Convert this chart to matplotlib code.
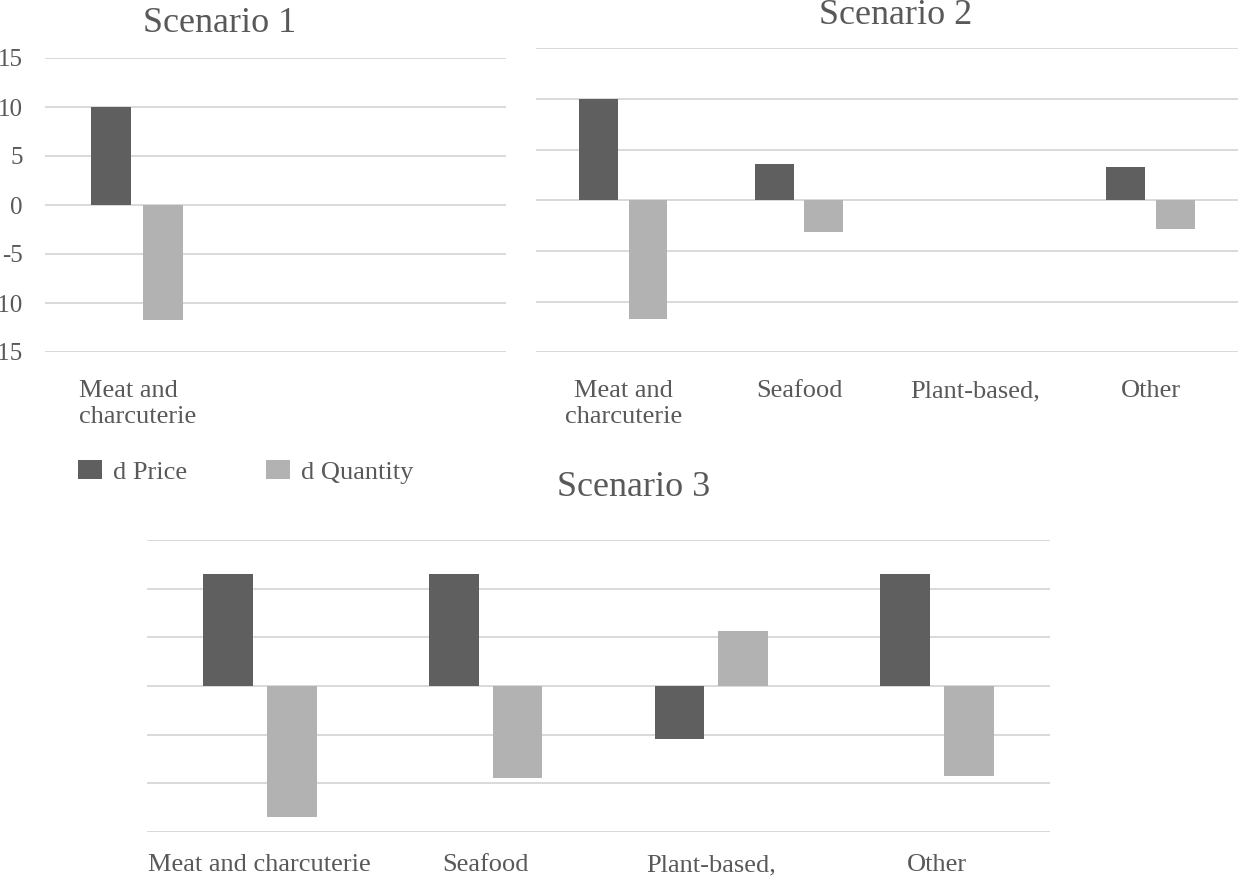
import matplotlib.pyplot as plt
import numpy as np

plt.rcParams['font.family'] = ['Liberation Serif', 'DejaVu Serif']
plt.rcParams['axes.unicode_minus'] = False

# change in price / quantity per product group, one set per scenario
cats_s1 = ["Meat and\ncharcuterie"]
price_s1 = [10.0]
qty_s1 = [-11.7]

cats_s2 = ["Meat and\ncharcuterie", "Seafood", "Plant-based,", "Other"]
price_s2 = [10.0, 3.6, 0.0, 3.3]
qty_s2 = [-11.7, -3.1, 0.0, -2.8]

cats_s3 = ["Meat and charcuterie", "Seafood", "Plant-based,", "Other"]
price_s3 = [11.5, 11.5, -5.4, 11.5]
qty_s3 = [-13.5, -9.5, 5.7, -9.2]

y_ticks = [-15, -10, -5, 0, 5, 10, 15]

DARK = '#5f5f5f'
LIGHT = '#b2b2b2'
GRID = '#d9d9d9'
TEXT = '#595959'
BAR_W = 0.22
OFFSET = 0.141


def draw_panel(ax, cats, price, qty, show_yticks=False, xlim=None, xpad=20):
    x = np.arange(len(cats))
    bp = ax.bar(x - OFFSET, price, BAR_W, color=DARK, label='d Price', zorder=3)
    bq = ax.bar(x + OFFSET, qty, BAR_W, color=LIGHT, label='d Quantity', zorder=3)
    ax.set_ylim(-15, 15)
    ax.set_yticks(y_ticks)
    ax.set_xticks(x)
    ax.set_xticklabels(cats, fontsize=19, color=TEXT, linespacing=1.25)
    if xlim is None:
        xlim = (-0.5, len(cats) - 0.5)
    ax.set_xlim(*xlim)
    ax.grid(axis='y', color=GRID, linewidth=1.4, zorder=0)
    ax.set_axisbelow(True)
    for s in ax.spines.values():
        s.set_visible(False)
    ax.tick_params(axis='x', length=0, pad=xpad)
    if show_yticks:
        ax.tick_params(axis='y', length=0, labelsize=18, labelcolor=TEXT, pad=16)
    else:
        ax.tick_params(axis='y', length=0, labelleft=False)
    return bp, bq


fig = plt.figure(figsize=(12.39, 8.77), dpi=100)

W, H = 1239, 877
ax1 = fig.add_axes([45 / W, 1 - 352 / H, 461 / W, 294 / H])
ax2 = fig.add_axes([535.5 / W, 1 - 352.3 / H, 702.8 / W, 304 / H])
ax3 = fig.add_axes([147 / W, 1 - 832 / H, 903 / W, 292 / H])

bp, bq = draw_panel(ax1, cats_s1, price_s1, qty_s1, show_yticks=True, xlim=(-0.5, 2.0))
for lbl in ax1.get_xticklabels():
    lbl.set_multialignment('left')
    lbl.set_x(0.04)
draw_panel(ax2, cats_s2, price_s2, qty_s2)
draw_panel(ax3, cats_s3, price_s3, qty_s3, xpad=16)

fig.text(220 / W, 1 - 24 / H, "Scenario 1", fontsize=26, color=TEXT, ha='center', va='center')
fig.text(896 / W, 1 - 16 / H, "Scenario 2", fontsize=26, color=TEXT, ha='center', va='center')
fig.text(634 / W, 1 - 488 / H, "Scenario 3", fontsize=26, color=TEXT, ha='center', va='center')

leg = fig.legend(handles=[bp, bq], labels=['d Price', 'd Quantity'],
                 loc='center left', bbox_to_anchor=(78 / W, 1 - 472 / H),
                 ncol=2, frameon=False, fontsize=19, borderpad=0, borderaxespad=0,
                 handlelength=0.9, handleheight=0.75, handletextpad=0.42,
                 columnspacing=3.0)
for t in leg.get_texts():
    t.set_color(TEXT)

fig.savefig('out.png', dpi=100)
